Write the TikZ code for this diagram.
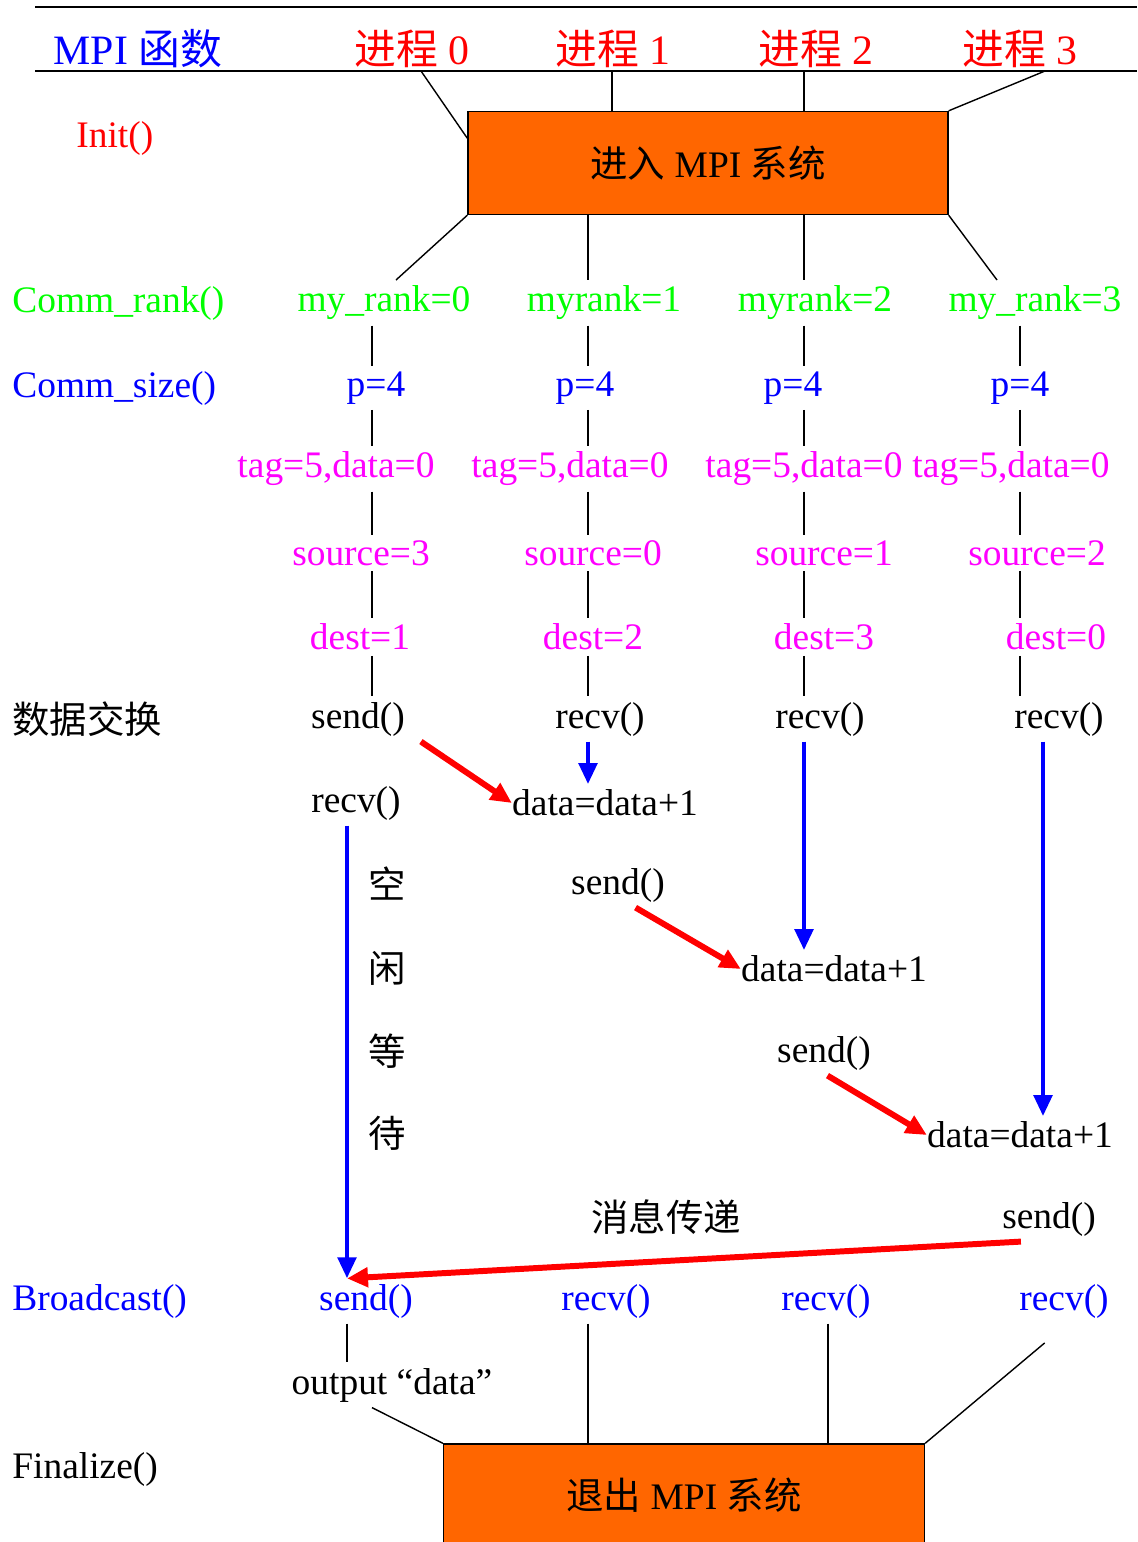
\documentclass[tikz,border=0pt]{standalone}
\usepackage{fontspec}
\usetikzlibrary{arrows.meta}
\setmainfont{Liberation Serif}
\newfontfamily\cjk{Noto Sans CJK SC}
\definecolor{boxorange}{HTML}{FF6600}
\definecolor{rankgreen}{HTML}{00FF00}
\definecolor{parmagenta}{HTML}{FF00FF}

\begin{document}
\begin{tikzpicture}[x=0.02cm,y=-0.02cm]
                \tikzstyle{txt} = [inner xsep=0pt, inner ysep=3pt, yshift=-0.06cm, font=\fontsize{21.3}{25}\selectfont]
                \tikzstyle{headtxt} = [txt, font=\fontsize{23.8}{28}\selectfont]
                \tikzstyle{fnlabel} = [txt, anchor=west]
                \tikzstyle{sysbox} = [rectangle, draw, fill=boxorange, line width=0.8pt, minimum width=9.6cm, minimum height=2.06cm, font=\fontsize{21.3}{25}\selectfont]
                \tikzstyle{link} = [line width=0.8pt]
                \tikzstyle{msg} = [line width=3.4pt, red, -{Triangle[length=0.42cm,width=0.38cm]}]
                \tikzstyle{wait} = [line width=2.8pt, blue, -{Triangle[length=0.42cm,width=0.36cm]}]
                \useasboundingbox (0,0) rectangle (1137,1542);

                % header
                \draw [line width=1.1pt] (35,7) -- (1137,7);
                \draw [line width=1.1pt] (35,71) -- (1137,71);
                \node (fn) [headtxt, blue] at (138,46) {MPI {\cjk 函数}};
                \node (p0) [headtxt, red] at (412,46) {{\cjk 进程} 0};
                \node (p1) [headtxt, red] at (613,46) {{\cjk 进程} 1};
                \node (p2) [headtxt, red] at (816,46) {{\cjk 进程} 2};
                \node (p3) [headtxt, red] at (1020,46) {{\cjk 进程} 3};
                \coordinate (h0) at (421,71);
                \coordinate (h1) at (612,71);
                \coordinate (h2) at (804,71);
                \coordinate (h3) at (1045,71);
                \coordinate (c0) at (372,0);
                \coordinate (c1) at (588,0);
                \coordinate (c2) at (804,0);
                \coordinate (c3) at (1020,0);

                % Init
                \node (initfn) [fnlabel, red] at (76,135) {Init()};
                \node (init) [sysbox] at (708,163) {{\cjk 进入} MPI {\cjk 系统}};
                \coordinate (k0) at (396,280);
                \coordinate (k3) at (997,280);
                \draw [link] (h0) -- ([yshift=-0.55cm]init.north west);
                \draw [link] (h1) -- (init.north -| h1);
                \draw [link] (h2) -- (init.north -| h2);
                \draw [link] (h3) -- (init.north east);
                \draw [link] (init.south west) -- (k0);
                \draw [link] (init.south -| c1) -- (c1 |- k0);
                \draw [link] (init.south -| c2) -- (c2 |- k0);
                \draw [link] (init.south east) -- (k3);

                % rank
                \node (rankfn) [fnlabel, rankgreen] at (12,300) {Comm\_rank()};
                \node (rank0) [txt, rankgreen] at (384,300) {my\_rank=0};
                \node (rank1) [txt, rankgreen] at (604,300) {myrank=1};
                \node (rank2) [txt, rankgreen] at (815,300) {myrank=2};
                \node (rank3) [txt, rankgreen] at (1035,300) {my\_rank=3};

                % size
                \node (sizefn) [fnlabel, blue] at (12,385) {Comm\_size()};
                \node (size0) [txt, blue] at (376,385) {p=4};
                \node (size1) [txt, blue] at (585,385) {p=4};
                \node (size2) [txt, blue] at (793,385) {p=4};
                \node (size3) [txt, blue] at (1020,385) {p=4};

                \node (tag0) [txt, parmagenta] at (336,466) {tag=5,data=0};
                \node (tag1) [txt, parmagenta] at (570,466) {tag=5,data=0};
                \node (tag2) [txt, parmagenta] at (804,466) {tag=5,data=0};
                \node (tag3) [txt, parmagenta] at (1011,466) {tag=5,data=0};

                \node (src0) [txt, parmagenta] at (361,550) {source=3};
                \node (src1) [txt, parmagenta] at (593,550) {source=0};
                \node (src2) [txt, parmagenta] at (824,550) {source=1};
                \node (src3) [txt, parmagenta] at (1037,550) {source=2};

                \node (dst0) [txt, parmagenta] at (360,634) {dest=1};
                \node (dst1) [txt, parmagenta] at (593,634) {dest=2};
                \node (dst2) [txt, parmagenta] at (824,634) {dest=3};
                \node (dst3) [txt, parmagenta] at (1056,634) {dest=0};

                % exchange
                \node (xfn) [fnlabel] at (12,716) {\cjk 数据交换};
                \node (send0) [txt] at (358,716) {send()};
                \node (recv1) [txt] at (600,716) {recv()};
                \node (recv2) [txt] at (820,716) {recv()};
                \node (recv3) [txt] at (1059,716) {recv()};

                \draw [link] (rank0.south -| c0) -- (size0.north -| c0);
                \draw [link] (size0.south -| c0) -- (tag0.north -| c0);
                \draw [link] (tag0.south -| c0) -- (src0.north -| c0);
                \draw [link] (src0.south -| c0) -- (dst0.north -| c0);
                \draw [link] (dst0.south -| c0) -- (send0.north -| c0);
                \draw [link] (rank1.south -| c1) -- (size1.north -| c1);
                \draw [link] (size1.south -| c1) -- (tag1.north -| c1);
                \draw [link] (tag1.south -| c1) -- (src1.north -| c1);
                \draw [link] (src1.south -| c1) -- (dst1.north -| c1);
                \draw [link] (dst1.south -| c1) -- (recv1.north -| c1);
                \draw [link] (rank2.south -| c2) -- (size2.north -| c2);
                \draw [link] (size2.south -| c2) -- (tag2.north -| c2);
                \draw [link] (tag2.south -| c2) -- (src2.north -| c2);
                \draw [link] (src2.south -| c2) -- (dst2.north -| c2);
                \draw [link] (dst2.south -| c2) -- (recv2.north -| c2);
                \draw [link] (rank3.south -| c3) -- (size3.north -| c3);
                \draw [link] (size3.south -| c3) -- (tag3.north -| c3);
                \draw [link] (tag3.south -| c3) -- (src3.north -| c3);
                \draw [link] (src3.south -| c3) -- (dst3.north -| c3);
                \draw [link] (dst3.south -| c3) -- (recv3.north -| c3);

                \node (recv0) [txt] at (356,800) {recv()};
                \node (upd1) [txt] at (605,800) {data=data+1};
                \node (send1) [txt] at (618,882) {send()};
                \node (upd2) [txt] at (834,966) {data=data+1};
                \node (send2) [txt] at (824,1050) {send()};
                \node (upd3) [txt] at (1020,1132) {data=data+1};
                \node (send3) [txt] at (1049,1216) {send()};
                \node (pass) [txt] at (666,1214) {\cjk 消息传递};

                \node (idle1) [txt] at (387,881) {\cjk 空};
                \node (idle2) [txt] at (387,965) {\cjk 闲};
                \node (idle3) [txt] at (387,1048) {\cjk 等};
                \node (idle4) [txt] at (387,1130) {\cjk 待};

                % broadcast
                \node (bfn) [fnlabel, blue] at (12,1298) {Broadcast()};
                \node (bsend0) [txt, blue] at (366,1298) {send()};
                \node (brecv1) [txt, blue] at (606,1298) {recv()};
                \node (brecv2) [txt, blue] at (826,1298) {recv()};
                \node (brecv3) [txt, blue] at (1064,1298) {recv()};
                \coordinate (w0) at (347,0);
                \coordinate (w3) at (1043,0);
                \coordinate (e2) at (828,0);

                \draw [wait] (recv1.south -| c1) -- (upd1.north -| c1);
                \draw [wait] (recv2.south -| c2) -- (upd2.north -| c2);
                \draw [wait] (recv3.south -| w3) -- (upd3.north -| w3);
                \draw [wait] (recv0.south -| w0) -- (bsend0.north -| w0);
                \draw [msg] ([xshift=9pt]send0.south east) -- (upd1.west);
                \draw [msg] ([xshift=10pt]send1.south) -- (upd2.west);
                \draw [msg] ([xshift=2pt]send2.south) -- (upd3.west);
                \draw [msg] ([xshift=-16pt]send3.south) -- (bsend0.north -| w0);

                % finalize
                \node (out0) [txt] at (392,1382) {output “data”};
                \node (finfn) [fnlabel] at (12,1466) {Finalize()};
                \node (final) [sysbox, minimum width=9.62cm, minimum height=2.04cm] at (684,1495) {{\cjk 退出} MPI {\cjk 系统}};
                \draw [link] (bsend0.south -| w0) -- (out0.north -| w0);
                \draw [link] (out0.south -| c0) -- (final.north west);
                \draw [link] (brecv1.south -| c1) -- (final.north -| c1);
                \draw [link] (brecv2.south -| e2) -- (final.north -| e2);
                \draw [link] ([xshift=-11pt, yshift=-11pt]brecv3.south) -- (final.north east);
            \end{tikzpicture}
\end{document}
